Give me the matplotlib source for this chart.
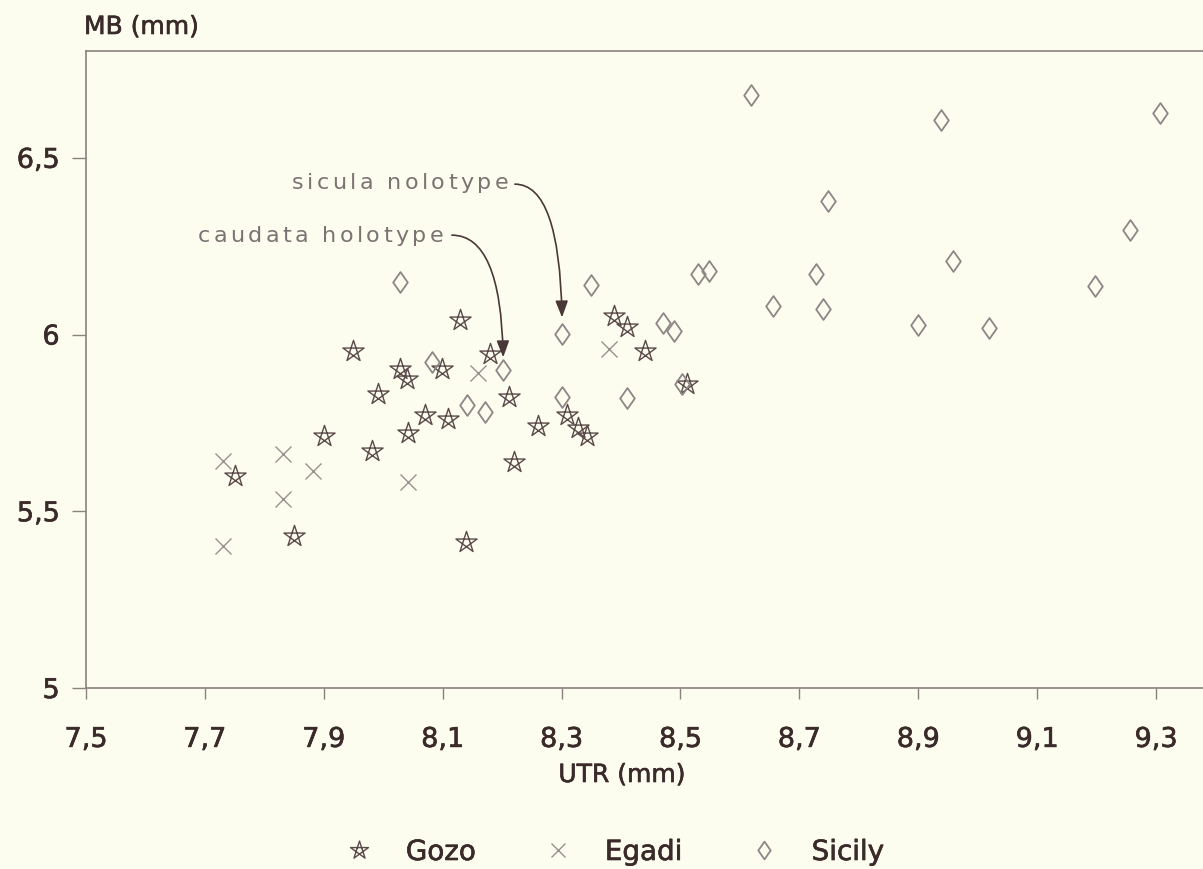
import numpy as np
import matplotlib
matplotlib.use("Agg")
import matplotlib.pyplot as plt
import matplotlib.patheffects as pe
from matplotlib.path import Path
from matplotlib.lines import Line2D
from matplotlib.transforms import IdentityTransform

# Gozo
gozo_x = [8.129, 7.949, 8.028, 8.040, 8.099, 8.180, 7.991, 8.070, 8.109, 8.042,
          7.900, 7.981, 7.751, 7.850, 8.139, 8.212, 8.260, 8.220, 8.309, 8.328,
          8.343, 8.388, 8.410, 8.440, 8.511]
gozo_y = [6.041, 5.953, 5.902, 5.874, 5.902, 5.945, 5.832, 5.772, 5.761, 5.721,
          5.713, 5.670, 5.600, 5.430, 5.413, 5.823, 5.741, 5.639, 5.772, 5.736,
          5.713, 6.052, 6.021, 5.953, 5.860]

# Egadi
egadi_x = [8.160, 7.831, 7.730, 7.882, 7.831, 8.042, 7.730, 8.380]
egadi_y = [5.891, 5.662, 5.642, 5.614, 5.535, 5.583, 5.402, 5.959]

# Sicily
sicily_x = [8.028, 8.082, 8.141, 8.171, 8.202, 8.301, 8.301, 8.471, 8.489, 8.410,
            8.503, 8.656, 8.619, 8.350, 8.530, 8.548, 8.938, 9.307, 8.748, 9.256,
            8.959, 8.728, 9.198, 8.740, 8.900, 9.019]
sicily_y = [6.149, 5.922, 5.801, 5.781, 5.900, 6.001, 5.823, 6.033, 6.010, 5.820,
            5.860, 6.081, 6.678, 6.140, 6.171, 6.180, 6.607, 6.627, 6.378, 6.296,
            6.208, 6.171, 6.137, 6.072, 6.027, 6.018]

# holotypes (index into sicily lists)
CAUDATA_IDX = 4
SICULA_IDX = 5

x_ticks = [7.5, 7.7, 7.9, 8.1, 8.3, 8.5, 8.7, 8.9, 9.1, 9.3]
y_ticks = [5.0, 5.5, 6.0, 6.5]

BG = "#fcfcef"
DARK = "#3a2a2a"
SPINE = "#8c8080"
W, H = 1203, 870
BOLDISH = [pe.withStroke(linewidth=0.45, foreground=DARK)]

# marker shapes
ang = np.deg2rad(90 + 144 * np.arange(6))
star = Path(np.column_stack([np.cos(ang), np.sin(ang)]),
            [Path.MOVETO] + [Path.LINETO] * 4 + [Path.CLOSEPOLY])
diamond = Path([(0, 1), (0.7, 0), (0, -1), (-0.7, 0), (0, 1)],
               [Path.MOVETO] + [Path.LINETO] * 3 + [Path.CLOSEPOLY])

plt.rcParams["font.family"] = ["DejaVu Sans"]

fig = plt.figure(figsize=(W / 100, H / 100), dpi=100, facecolor=BG)
ax = fig.add_axes([86 / W, 1 - 689 / H, (W - 86) / W, (689 - 52) / H])
ax.set_facecolor(BG)

STYLE = {
    "gozo":   dict(marker=star, ms=16, mec="#5a4a4a", mew=1.0),
    "egadi":  dict(marker="x", ms=11.5, mec="#9a9090", mew=1.0),
    "sicily": dict(marker=diamond, ms=15, mec="#8e8686", mew=1.3),
}
ax.plot(gozo_x, gozo_y, ls="none", mfc="none", **STYLE["gozo"])
ax.plot(egadi_x, egadi_y, ls="none", mfc="none", **STYLE["egadi"])
ax.plot(sicily_x, sicily_y, ls="none", mfc="none", **STYLE["sicily"])

ax.set_xlim(7.5, 9.379)
ax.set_ylim(5.0, 6.802)
ax.set_xticks(x_ticks)
ax.set_xticklabels([f"{t:.1f}".replace(".", ",") for t in x_ticks])
ax.set_yticks(y_ticks)
ax.set_yticklabels([f"{t:g}".replace(".", ",") for t in y_ticks])
ax.tick_params(axis="x", length=8, width=1, color=SPINE, pad=20,
               labelsize=19.5, labelcolor=DARK)
ax.tick_params(axis="y", length=10, width=1, color=SPINE, pad=9,
               labelsize=19.5, labelcolor=DARK)
for lab in ax.get_xticklabels() + ax.get_yticklabels():
    lab.set_path_effects(BOLDISH)
for side in ["left", "top", "bottom"]:
    ax.spines[side].set_color(SPINE)
    ax.spines[side].set_linewidth(1.2)
ax.spines["right"].set_visible(False)

fig.text(84 / W, 1 - 28 / H, "MB (mm)", ha="left", va="center",
         fontsize=18, color=DARK, path_effects=BOLDISH)
fig.text(622 / W, 1 - 776 / H, "UTR (mm)", ha="center", va="center",
         fontsize=18, color=DARK, path_effects=BOLDISH)


def spaced_text(s, x_end, y, gap, **kw):
    """letter-spaced label, right edge at pixel x_end, centre at pixel y (from top)"""
    r = fig.canvas.get_renderer()
    parts, widths = [], []
    for ch in s:
        t = fig.text(0, 0, ch, transform=IdentityTransform(),
                     ha="left", va="baseline", **kw)
        w = t.get_window_extent(r).width if ch != " " else kw["fontsize"] * 0.32 * 100 / 72
        parts.append(t)
        widths.append(w)
    total = sum(widths) + gap * (len(s) - 1)
    cur = x_end - total
    for t, w in zip(parts, widths):
        t.set_position((cur, H - y - 6))
        cur += w + gap


label_kw = dict(fontsize=16, color="#7c7272")
spaced_text("sicula nolotype", 508, 183, 3.4, **label_kw)
spaced_text("caudata holotype", 443, 236, 3.4, **label_kw)

arrow = dict(arrowstyle="-|>,head_length=1.0,head_width=0.38", color="#4a3838",
             lw=1.2, shrinkA=0, shrinkB=12,
             connectionstyle="angle3,angleA=0,angleB=90")
ax.annotate("", xy=(sicily_x[SICULA_IDX], sicily_y[SICULA_IDX]),
            xytext=(-34, 108), textcoords="offset points", arrowprops=arrow)
ax.annotate("", xy=(sicily_x[CAUDATA_IDX], sicily_y[CAUDATA_IDX]),
            xytext=(-37, 97), textcoords="offset points",
            arrowprops=dict(arrow, shrinkB=9))

handles = [Line2D([], [], ls="none", mfc="none", **dict(STYLE[k], ms=STYLE[k]["ms"] * 0.85))
           for k in ["gozo", "egadi", "sicily"]]
leg = fig.legend(handles, ["Gozo", "Egadi", "Sicily"], loc="center",
                 bbox_to_anchor=(613 / W, 1 - 853 / H), ncol=3, frameon=False,
                 fontsize=20, labelcolor=DARK, handletextpad=1.1, columnspacing=2.35,
                 handlelength=1.2)
for t in leg.get_texts():
    t.set_path_effects(BOLDISH)

fig.savefig("out.png", dpi=100, facecolor=BG)
